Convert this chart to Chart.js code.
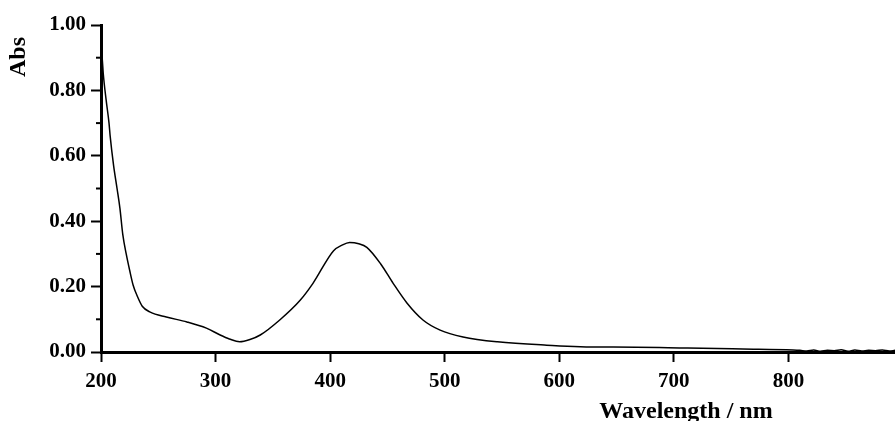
<!DOCTYPE html>
<html>
<head>
<meta charset="utf-8">
<script src="https://cdn.jsdelivr.net/npm/chart.js@4"></script>
<style>
  body { margin: 0; background: #fff; }
  #wrap { width: 895px; height: 421px; position: relative; }
</style>
</head>
<body>
<div id="wrap"><canvas id="chart"></canvas></div>
<script>
// wavelength in nm
const wavelength = [
  200, 201, 202, 204.5, 207, 208, 211, 214, 216.5, 219, 222, 225, 228, 232, 236, 243, 257, 275, 292,
  304, 312, 321, 330, 339, 356, 374, 385, 403, 410, 417, 425, 432, 444, 455,
  467, 481, 496, 516, 546, 589, 636, 647, 712, 760, 804,
  810, 816, 822, 828, 834, 840, 846, 852, 858, 864, 870, 876, 882, 888, 893
];
// absorbance
const absorbance = [
  0.92, 0.90, 0.85, 0.77, 0.70, 0.66, 0.57, 0.50, 0.44, 0.36, 0.30, 0.25, 0.205, 0.168, 0.14, 0.122, 0.107, 0.092, 0.073,
  0.052, 0.040, 0.031, 0.038, 0.052, 0.098, 0.159, 0.21, 0.31, 0.326, 0.335, 0.331, 0.32, 0.27, 0.21,
  0.15, 0.098, 0.067, 0.046, 0.031, 0.021, 0.015, 0.015, 0.012, 0.009, 0.006,
  0.005, 0.003, 0.006, 0.002, 0.005, 0.004, 0.007, 0.002, 0.006, 0.003, 0.005, 0.004, 0.006, 0.003, 0.005
];

const xTicks = [200, 300, 400, 500, 600, 700, 800];
const yTicks = [0, 0.2, 0.4, 0.6, 0.8, 1.0];
const yMinorTicks = [0.1, 0.3, 0.5, 0.7, 0.9];

const serif = '"Liberation Serif", "Times New Roman", serif';

// minor ticks on y and the axis titles
const extras = {
  id: 'extras',
  afterDraw(chart) {
    const ctx = chart.ctx;
    const y = chart.scales.y;
    const left = chart.chartArea.left;
    ctx.save();
    ctx.strokeStyle = '#000';
    ctx.lineWidth = 2;
    yMinorTicks.forEach(v => {
      const py = y.getPixelForValue(v);
      ctx.beginPath();
      ctx.moveTo(left - 5, py);
      ctx.lineTo(left, py);
      ctx.stroke();
    });

    ctx.fillStyle = '#000';
    ctx.font = 'bold 24px ' + serif;
    ctx.textAlign = 'center';
    ctx.textBaseline = 'middle';
    ctx.save();
    ctx.translate(19, 57);
    ctx.rotate(-Math.PI / 2);
    ctx.fillText('Abs', 0, 0);
    ctx.restore();

    ctx.textBaseline = 'alphabetic';
    ctx.fillText('Wavelength / nm', 686, 418);
    ctx.restore();
  }
};

new Chart(document.getElementById('chart'), {
  type: 'line',
  data: {
    datasets: [{
      data: wavelength.map((w, i) => ({ x: w, y: absorbance[i] })),
      borderColor: '#000',
      borderWidth: 1.5,
      pointRadius: 0,
      fill: false,
      cubicInterpolationMode: 'monotone'
    }]
  },
  options: {
    animation: false,
    responsive: true,
    maintainAspectRatio: false,
    layout: { padding: { top: 25, right: 0, left: 0, bottom: 0 } },
    plugins: { legend: { display: false }, tooltip: { enabled: false } },
    scales: {
      x: {
        type: 'linear',
        min: 200,
        max: 893,
        afterFit(scale) { scale.height = 69; },
        afterBuildTicks(scale) { scale.ticks = xTicks.map(v => ({ value: v })); },
        border: { color: '#000', width: 3 },
        grid: { drawOnChartArea: false, drawTicks: true, tickLength: 10, tickWidth: 2, color: '#000' },
        ticks: {
          color: '#000',
          padding: 7,
          maxRotation: 0,
          font: { family: serif, size: 21, weight: 'bold' }
        }
      },
      y: {
        min: 0,
        max: 1,
        afterFit(scale) { scale.width = 101; },
        afterBuildTicks(scale) { scale.ticks = yTicks.map(v => ({ value: v })); },
        border: { color: '#000', width: 3 },
        grid: { drawOnChartArea: false, drawTicks: true, tickLength: 10, tickWidth: 2, color: '#000' },
        ticks: {
          color: '#000',
          padding: 5,
          font: { family: serif, size: 21, weight: 'bold' },
          callback: v => Number(v).toFixed(2)
        }
      }
    }
  },
  plugins: [extras]
});
</script>
</body>
</html>
